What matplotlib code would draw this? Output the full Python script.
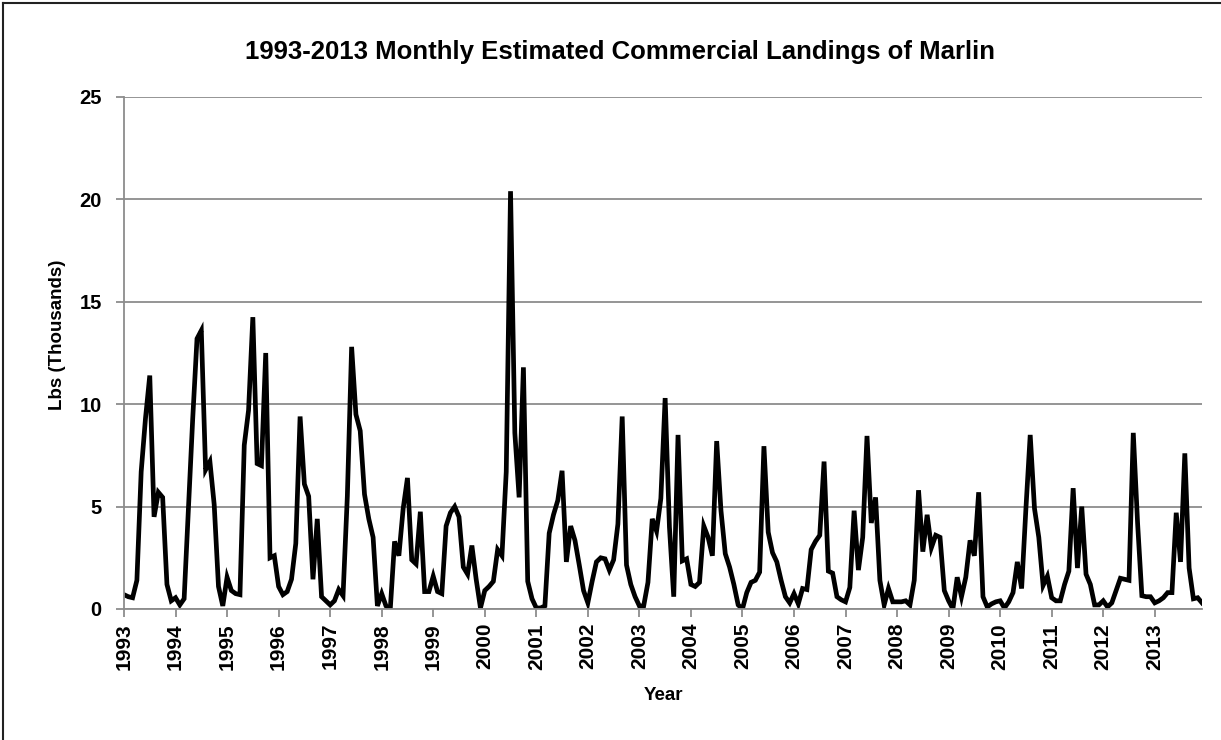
import numpy as np
import matplotlib
matplotlib.use("Agg")
import matplotlib.pyplot as plt
from matplotlib.lines import Line2D

# monthly landings (thousands of lbs), Jan..Dec for each year
years = list(range(1993, 2014))
landings = [
    [0.7, 0.6, 0.55, 1.4, 6.7, 9.3, 11.4, 4.5, 5.7, 5.45, 1.2, 0.4],        # 1993
    [0.55, 0.2, 0.5, 4.9, 9.3, 13.2, 13.6, 6.8, 7.2, 5.1, 1.1, 0.15],       # 1994
    [1.55, 0.9, 0.75, 0.7, 8.0, 9.7, 14.25, 7.1, 7.0, 12.5, 2.5, 2.6],      # 1995
    [1.1, 0.7, 0.85, 1.45, 3.2, 9.4, 6.1, 5.5, 1.45, 4.4, 0.6, 0.4],        # 1996
    [0.2, 0.4, 0.95, 0.65, 5.5, 12.8, 9.5, 8.7, 5.6, 4.4, 3.5, 0.15],       # 1997
    [0.75, 0.15, 0.0, 3.3, 2.6, 4.9, 6.4, 2.4, 2.2, 4.75, 0.85, 0.85],      # 1998
    [1.6, 0.85, 0.75, 4.05, 4.7, 5.0, 4.5, 2.05, 1.7, 3.1, 1.45, 0.05],     # 1999
    [0.9, 1.1, 1.35, 2.9, 2.6, 6.7, 20.4, 8.6, 5.45, 11.8, 1.35, 0.5],      # 2000
    [0.05, 0.05, 0.15, 3.7, 4.6, 5.3, 6.75, 2.3, 4.05, 3.35, 2.15, 0.9],    # 2001
    [0.3, 1.35, 2.3, 2.5, 2.45, 1.9, 2.4, 4.15, 9.4, 2.15, 1.2, 0.6],       # 2002
    [0.15, 0.15, 1.3, 4.4, 3.8, 5.4, 10.3, 4.0, 0.6, 8.5, 2.35, 2.45],      # 2003
    [1.2, 1.1, 1.3, 4.05, 3.5, 2.6, 8.2, 4.8, 2.7, 2.05, 1.2, 0.2],         # 2004
    [0.0, 0.8, 1.3, 1.4, 1.8, 7.95, 3.75, 2.75, 2.3, 1.4, 0.6, 0.3],        # 2005
    [0.75, 0.25, 1.0, 0.95, 2.9, 3.3, 3.6, 7.2, 1.85, 1.75, 0.6, 0.45],     # 2006
    [0.35, 1.05, 4.8, 1.9, 3.5, 8.45, 4.2, 5.45, 1.4, 0.2, 1.0, 0.35],      # 2007
    [0.35, 0.35, 0.4, 0.2, 1.4, 5.8, 2.8, 4.6, 3.0, 3.6, 3.5, 0.9],         # 2008
    [0.4, 0.0, 1.55, 0.6, 1.55, 3.35, 2.6, 5.7, 0.6, 0.1, 0.25, 0.35],      # 2009
    [0.4, 0.05, 0.35, 0.8, 2.3, 1.0, 4.9, 8.5, 4.9, 3.5, 1.15, 1.6],        # 2010
    [0.55, 0.4, 0.4, 1.2, 1.85, 5.9, 2.0, 5.0, 1.7, 1.2, 0.2, 0.2],         # 2011
    [0.4, 0.1, 0.3, 0.9, 1.5, 1.45, 1.4, 8.6, 4.2, 0.65, 0.6, 0.6],         # 2012
    [0.3, 0.4, 0.55, 0.8, 0.8, 4.7, 2.3, 7.6, 2.0, 0.5, 0.55, 0.3],         # 2013
]
y_ticks = [0, 5, 10, 15, 20, 25]

values = np.concatenate(landings)
months = np.arange(len(values))

plt.rcParams['font.family'] = ['Liberation Sans', 'DejaVu Sans']
plt.rcParams['font.weight'] = 'bold'

fig = plt.figure(figsize=(12.21, 7.40), dpi=100)
ax = fig.add_axes([124/1221, 1 - 609/740, (1202 - 124)/1221, (609 - 97)/740])

grey = '#8c8c8c'
ax.plot(months, values, color='black', lw=3.4, solid_joinstyle='miter')

ax.set_xlim(0, len(values) - 1)
ax.set_ylim(0, 25)
ax.set_yticks(y_ticks)
ax.set_yticklabels([str(v) for v in y_ticks], fontsize=14.5, fontweight='bold')
ax.set_xticks(np.arange(0, len(values), 12))
ax.set_xticklabels([str(y) for y in years], rotation=90, fontsize=15, fontweight='bold')
ax.grid(axis='y', color=grey, lw=1.3)
ax.set_axisbelow(True)
for s in ['top', 'right']:
    ax.spines[s].set_visible(False)
for s in ['left', 'bottom']:
    ax.spines[s].set_color(grey)
    ax.spines[s].set_linewidth(1.3)
ax.tick_params(axis='both', colors=grey, length=6, width=1.3, labelcolor='black')
ax.tick_params(axis='y', pad=10)
ax.tick_params(axis='x', pad=4)

fig.text(620/1221, 1 - 52/740, '1993-2013 Monthly Estimated Commercial Landings of Marlin',
         ha='center', va='center', fontsize=18.5, fontweight='bold')
fig.text(57/1221, 1 - 335/740, 'Lbs (Thousands)', rotation=90, ha='center', va='center',
         fontsize=13.5, fontweight='bold')
fig.text(663/1221, 1 - 696/740, 'Year', ha='center', va='center', fontsize=13.5, fontweight='bold')

# outer chart border (left and top visible)
fig.add_artist(Line2D([3/1221, 3/1221], [0, 1 - 3/740], color='#222222', lw=1.5))
fig.add_artist(Line2D([3/1221, 1], [1 - 3/740, 1 - 3/740], color='#222222', lw=1.5))

fig.savefig('out.png', dpi=100)
